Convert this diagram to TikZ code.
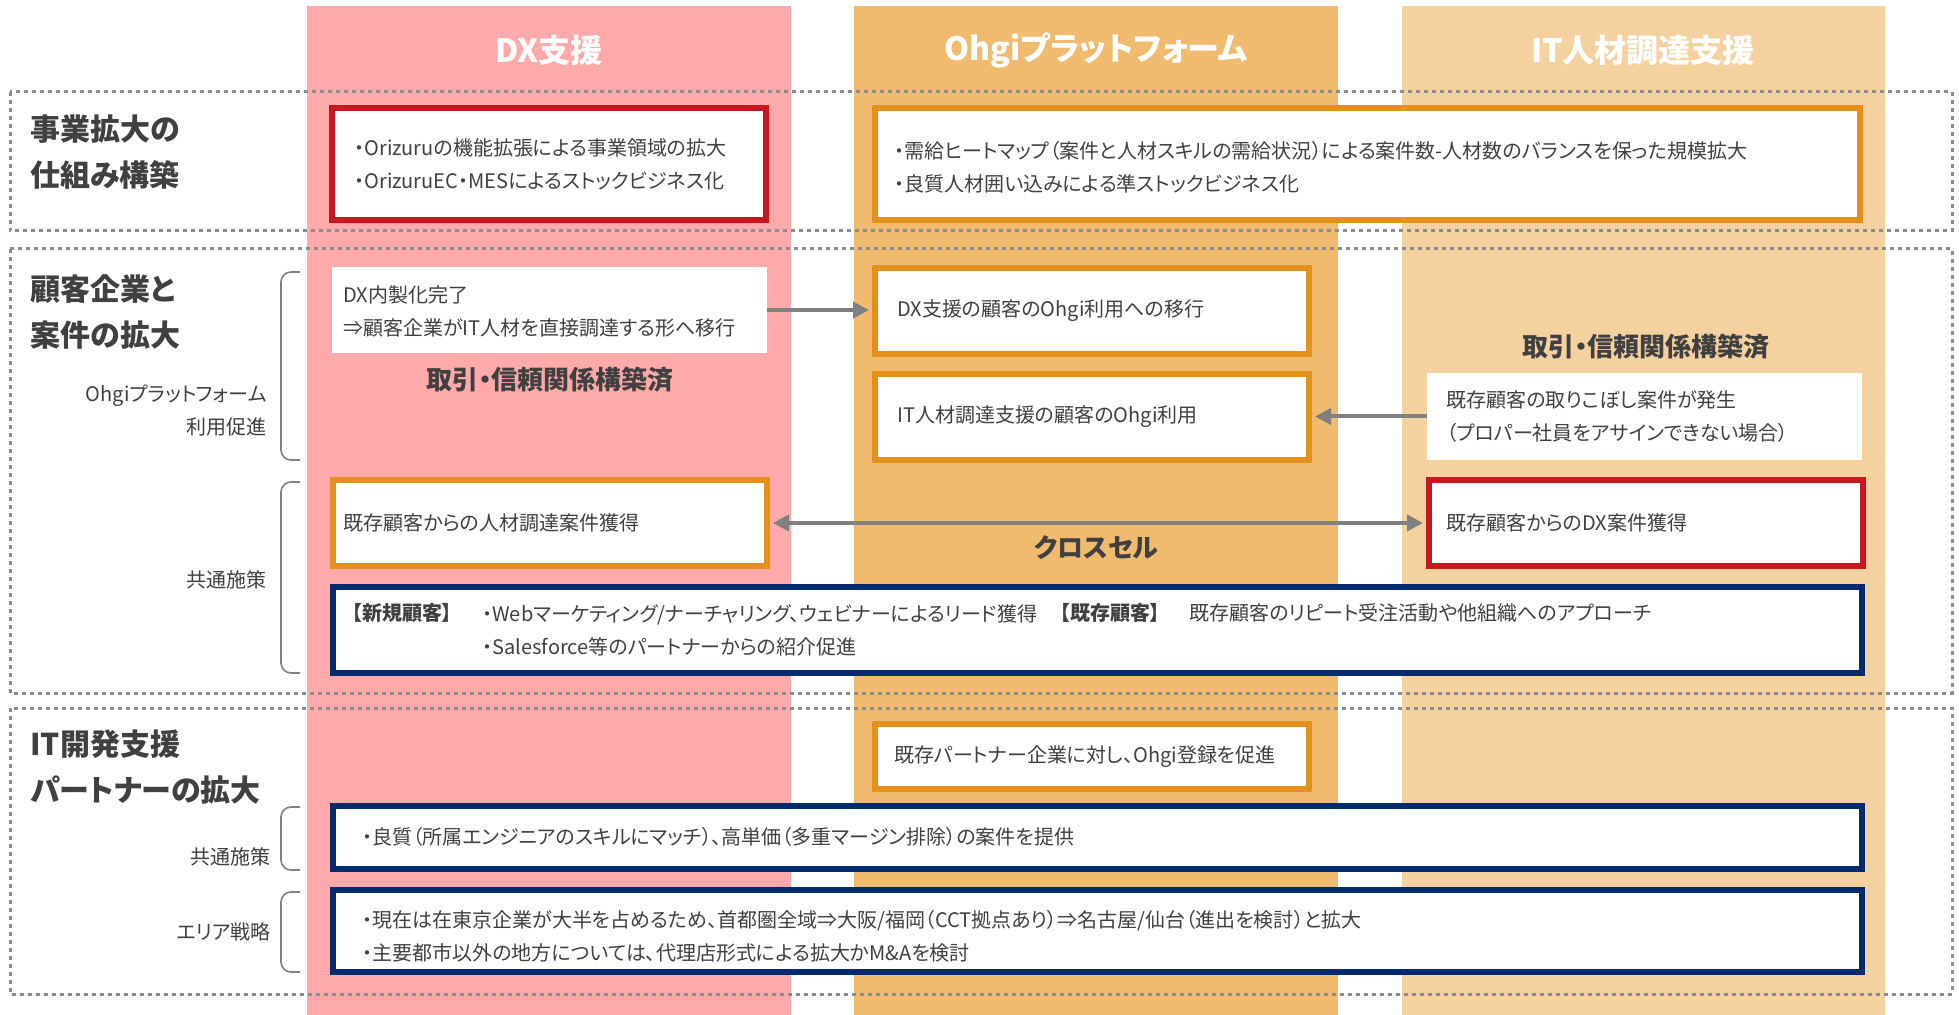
\documentclass[tikz,border=0pt]{standalone}
\usepackage{fontspec}
\setmainfont{Noto Sans CJK JP}[RawFeature=+palt]
\usetikzlibrary{fit,arrows.meta}
\definecolor{dxcol}{HTML}{FFA9AB}
\definecolor{ohcol}{HTML}{F0BB6F}
\definecolor{itcol}{HTML}{F6D1A0}
\definecolor{redb}{HTML}{C8171F}
\definecolor{orgb}{HTML}{E4901A}
\definecolor{navyb}{HTML}{012A6F}
\definecolor{txt}{HTML}{404040}
\definecolor{arrgray}{HTML}{808080}
\definecolor{dashgray}{HTML}{8C8C8C}
\tikzset{
  hdr/.style={text=white, inner sep=0, font=\fontsize{16}{19}\selectfont\bfseries},
  sect/.style={draw=dashgray, line width=1.5pt, dash pattern=on 2pt off 2pt},
  bx/.style={inner sep=0, line width=3pt, fill=white},
  redbox/.style={bx, draw=redb},
  orgbox/.style={bx, draw=orgb},
  navybox/.style={bx, draw=navyb},
  whitebox/.style={inner sep=0, fill=white, draw=none},
  body/.style={text=txt, font=\fontsize{10}{16.5}\selectfont, align=left, inner sep=0, anchor=west},
  bodyb/.style={body, font=\fontsize{10}{16.5}\selectfont\bfseries},
  lbl/.style={text=txt, font=\fontsize{15}{23}\selectfont\bfseries, align=left, inner sep=0, anchor=west},
  sublbl/.style={text=txt, font=\fontsize{10}{16.5}\selectfont, align=right, inner sep=0, anchor=east},
  emphtxt/.style={text=txt, font=\fontsize{13}{15}\selectfont\bfseries, inner sep=0},
  bracket/.style={draw=arrgray, line width=0.8pt, rounded corners=5pt},
  conn/.style={draw=arrgray, line width=2pt, shorten >=1.5pt, shorten <=1.5pt},
}
\begin{document}
\begin{tikzpicture}[x=0.5pt,y=-0.5pt]
\useasboundingbox (0,0) rectangle (1959,1015);
\fill[white] (0,0) rectangle (1959,1015);
% columns
\fill[dxcol] (307,6) rectangle (791,1015);
\fill[ohcol] (854,6) rectangle (1338,1015);
\fill[itcol] (1402,6) rectangle (1885,1015);
\node[hdr] (h1) at (549,50) {DX支援};
\node[hdr] (h2) at (1096,50) {Ohgiプラットフォーム};
\node[hdr] (h3) at (1643,50) {IT人材調達支援};
% section frames
\draw[sect] (10,92) rectangle (1952,231);
\draw[sect] (10,249) rectangle (1952,693);
\draw[sect] (10,708) rectangle (1952,994);
% section labels
\node[lbl] (l1) at (30,152) {事業拡大の\\仕組み構築};
\node[lbl] (l2) at (30,312) {顧客企業と\\案件の拡大};
\node[lbl] (l3) at (30,767) {IT開発支援\\パートナーの拡大};
% brackets
\draw[bracket] (300,272) -- (281,272) -- (281,460) -- (300,460);
\draw[bracket] (300,482) -- (281,482) -- (281,673) -- (300,673);
\draw[bracket] (300,807) -- (281,807) -- (281,870) -- (300,870);
\draw[bracket] (300,892) -- (281,892) -- (281,972) -- (300,972);
\node[sublbl] (s1) at (267,411) {Ohgiプラットフォーム\\利用促進};
\node[sublbl] (s2) at (267,580) {共通施策};
\node[sublbl] (s3) at (271,857) {共通施策};
\node[sublbl] (s4) at (271,932) {エリア戦略};
% section 1
\node[redbox, fit={(332,108) (766,220)}] (r1) {};
\node[body] (r1t) at (354,164) {・Orizuruの機能拡張による事業領域の拡大\\・OrizuruEC・MESによるストックビジネス化};
\node[orgbox, fit={(875,108) (1860,220)}] (o1) {};
\node[body] (o1t) at (894,167) {・需給ヒートマップ（案件と人材スキルの需給状況）による案件数-人材数のバランスを保った規模拡大\\・良質人材囲い込みによる準ストックビジネス化};
% section 2
\node[whitebox, fit={(332,267) (767,353)}] (w1) {};
\node[body] (w1t) at (343,311.5) {DX内製化完了\\⇒顧客企業がIT人材を直接調達する形へ移行};
\node[emphtxt] (e1) at (550,380) {取引・信頼関係構築済};
\node[orgbox, fit={(875,268) (1309,354)}] (o2) {};
\node[body] (o2t) at (897,311) {DX支援の顧客のOhgi利用への移行};
\node[orgbox, fit={(875,374) (1309,460)}] (o3) {};
\node[body] (o3t) at (897,417) {IT人材調達支援の顧客のOhgi利用};
\node[emphtxt] (e2) at (1646,347) {取引・信頼関係構築済};
\node[whitebox, fit={(1427,373) (1862,460)}] (w2) {};
\node[body] (w2t) at (1446,417) {既存顧客の取りこぼし案件が発生\\（プロパー社員をアサインできない場合）};
\node[orgbox, fit={(333,480) (767,566)}] (o4) {};
\node[body] (o4t) at (343,523) {既存顧客からの人材調達案件獲得};
\node[redbox, fit={(1429,480) (1863,566)}] (r2) {};
\node[body] (r2t) at (1446,523) {既存顧客からのDX案件獲得};
\node[emphtxt] (e3) at (1096,548) {クロスセル};
\node[navybox, fit={(333,587) (1862,673)}] (n1) {};
\node[bodyb] (n1a) at (352,613) {【新規顧客】};
\node[body] (n1b) at (482,630) {・Webマーケティング/ナーチャリング、ウェビナーによるリード獲得\\・Salesforce等のパートナーからの紹介促進};
\node[bodyb] (n1c) at (1060,613) {【既存顧客】};
\node[body] (n1d) at (1189,613) {既存顧客のリピート受注活動や他組織へのアプローチ};
% arrows
\draw[conn, shorten <=0pt, -{Triangle[length=8pt,width=8pt]}] (w1.east) -- (w1.east -| o2.west);
\draw[conn, shorten <=0pt, -{Triangle[length=8pt,width=8pt]}] (w2.west) -- (w2.west -| o3.east);
\draw[conn, {Triangle[length=8pt,width=8pt]}-{Triangle[length=8pt,width=8pt]}] (o4.east) -- (r2.west);
% section 3
\node[orgbox, fit={(875,724) (1309,789)}] (o5) {};
\node[body] (o5t) at (894,757) {既存パートナー企業に対し、Ohgi登録を促進};
\node[navybox, fit={(333,806) (1862,869)}] (n2) {};
\node[body] (n2t) at (362,837) {・良質（所属エンジニアのスキルにマッチ）、高単価（多重マージン排除）の案件を提供};
\node[navybox, fit={(333,890) (1862,972)}] (n3) {};
\node[body] (n3t) at (362,936.5) {・現在は在東京企業が大半を占めるため、首都圏全域⇒大阪/福岡（CCT拠点あり）⇒名古屋/仙台（進出を検討）と拡大\\・主要都市以外の地方については、代理店形式による拡大かM\&Aを検討};
\end{tikzpicture}
\end{document}
